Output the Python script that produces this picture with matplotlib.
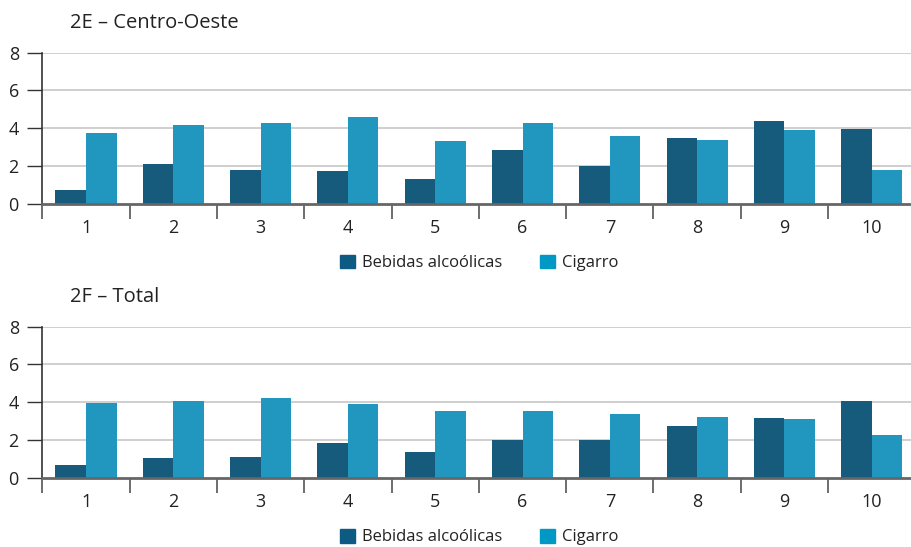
import matplotlib
matplotlib.use("Agg")
import matplotlib.pyplot as plt
import numpy as np
from matplotlib.patches import Patch

plt.rcParams['font.family'] = ['Open Sans', 'DejaVu Sans']

categories = ["1", "2", "3", "4", "5", "6", "7", "8", "9", "10"]
series_names = ["Bebidas alcoólicas", "Cigarro"]
title_e = "2E – Centro-Oeste"
title_f = "2F – Total"

bebidas_e = [0.72, 2.10, 1.78, 1.73, 1.31, 2.84, 2.00, 3.48, 4.38, 3.96]
cigarro_e = [3.75, 4.17, 4.28, 4.59, 3.32, 4.28, 3.59, 3.37, 3.90, 1.78]
bebidas_f = [0.67, 1.04, 1.10, 1.84, 1.36, 2.00, 2.00, 2.74, 3.16, 4.06]
cigarro_f = [3.96, 4.06, 4.22, 3.90, 3.53, 3.53, 3.37, 3.22, 3.11, 2.26]
yticks = [0, 2, 4, 6, 8]

c_dark = "#165a7c"
c_light = "#2196be"
leg_dark = "#0d5b82"
leg_light = "#0099c6"

W, H = 911, 547
fig = plt.figure(figsize=(W / 100, H / 100), dpi=100)

def px_axes(left, top_px, bottom_px, right=W):
    return fig.add_axes([left / W, 1 - bottom_px / H, (right - left) / W, (bottom_px - top_px) / H])

def draw(ax, beb, cig):
    x = np.arange(len(categories))
    w = 0.35
    ax.bar(x - w / 2, beb, w, color=c_dark, zorder=3)
    ax.bar(x + w / 2, cig, w, color=c_light, zorder=3)
    ax.set_xlim(-0.5, 9.45)
    ax.set_ylim(0, 8)
    ax.set_yticks(yticks)
    ax.set_yticklabels([str(t) for t in yticks])
    for t in yticks[1:]:
        ax.axhline(t, color="#cccccc", lw=1.3, zorder=1)
    for s in ["top", "right"]:
        ax.spines[s].set_visible(False)
    ax.spines["left"].set_color("#333333")
    ax.spines["left"].set_linewidth(1.2)
    ax.spines["bottom"].set_color("#666666")
    ax.spines["bottom"].set_linewidth(2.0)
    ax.spines["bottom"].set_zorder(4)
    ax.set_xticks(x)
    ax.set_xticklabels(categories)
    ax.set_xticks(np.arange(-0.5, 9.5, 1.0), minor=True)
    ax.tick_params(axis="x", which="major", length=0, pad=11, labelsize=13, labelcolor="#222222")
    ax.tick_params(axis="x", which="minor", length=11, width=1.2, color="#555555", direction="out")
    ax.tick_params(axis="y", length=11, width=1.0, color="#333333", pad=6, labelsize=13, labelcolor="#222222")

ax1 = px_axes(42.4, 52.7, 203.7)
draw(ax1, bebidas_e, cigarro_e)
ax2 = px_axes(42.4, 326.7, 477.7)
draw(ax2, bebidas_f, cigarro_f)

fig.text(70 / W, 1 - 23 / H, title_e, fontsize=14.5, color="#222222", va="center", ha="left")
fig.text(70 / W, 1 - 297 / H, title_f, fontsize=14.5, color="#222222", va="center", ha="left")

handles = [Patch(color=leg_dark, label=series_names[0]), Patch(color=leg_light, label=series_names[1])]
for ycen in (263, 537):
    fig.legend(handles=handles, loc="center", bbox_to_anchor=(479 / W, 1 - ycen / H), ncol=2,
               frameon=False, fontsize=12, handlelength=0.9, handleheight=0.9,
               handletextpad=0.4, columnspacing=2.3, labelcolor="#222222", borderpad=0)

fig.savefig("out.png", dpi=100)
